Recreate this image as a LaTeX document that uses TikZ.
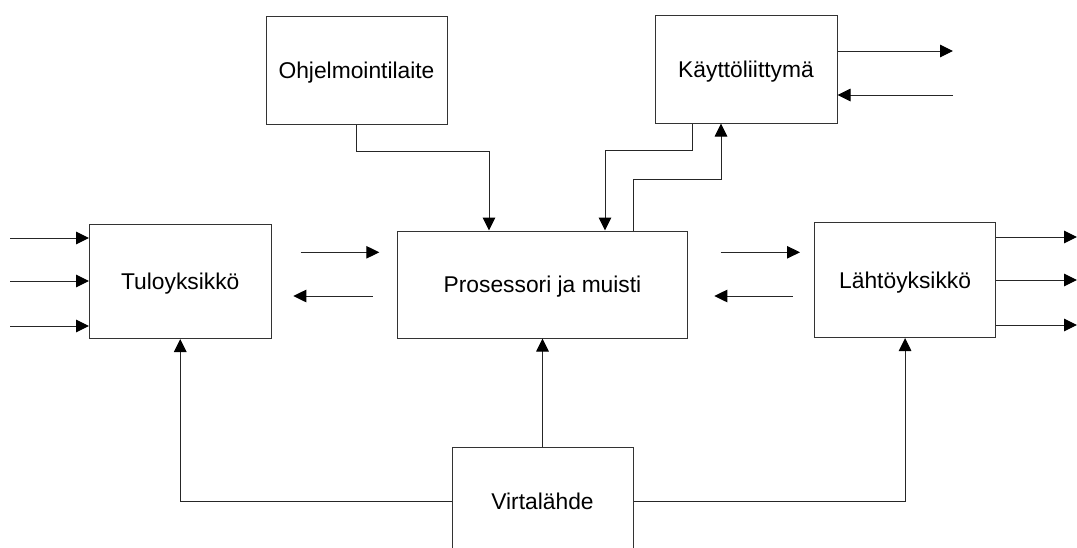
\documentclass[tikz,border=0pt]{standalone}
\usepackage{fontspec}
\setmainfont{Liberation Sans}
\usetikzlibrary{arrows.meta}
\begin{document}
\begin{tikzpicture}[x=1pt,y=-1pt,
  box/.style={draw=black!80,line width=1pt,fill=white,inner sep=0pt,
    text height=16.3pt,text depth=0pt,font=\fontsize{22.8}{27}\selectfont},
  arr/.style={draw=black!85,line width=1pt,-{Triangle[length=13pt,width=12.5pt,color=black]}},
  wire/.style={draw=black!85,line width=1pt}]
\useasboundingbox (0,0) rectangle (1077,547);
\clip (0,0) rectangle (1077,547);

% blocks
\node[box,minimum width=181pt,minimum height=108pt] (ohj) at (356.5,70) {Ohjelmointilaite};
\node[box,minimum width=182pt,minimum height=108pt] (kay) at (746,69) {Käyttöliittymä};
\node[box,minimum width=290pt,minimum height=107pt] (proc) at (542.5,284.5) {Prosessori ja muisti};
\node[box,minimum width=181.5pt,minimum height=114.5pt] (tulo) at (180.25,281.25) {Tuloyksikkö};
\node[box,minimum width=181.2pt,minimum height=114.8pt] (lah) at (905.1,280.1) {Lähtöyksikkö};
\node[box,minimum width=181pt,minimum height=109pt] (vir) at (542.5,501.5) {Virtalähde};

% free ends of the open connectors
\coordinate (kayout) at (953,51);
\coordinate (kayin) at (953,95);
\coordinate (in1) at (10,238);
\coordinate (in2) at (10,281);
\coordinate (in3) at (10,326);
\coordinate (out1) at (1077,237);
\coordinate (out2) at (1077,280);
\coordinate (out3) at (1077,325);
\coordinate (tp1) at (300.7,252.3);
\coordinate (tp2) at (379.3,252.3);
\coordinate (pt1) at (372.7,296);
\coordinate (pt2) at (293.3,296);
\coordinate (pl1) at (720.7,252.3);
\coordinate (pl2) at (800,252.3);
\coordinate (lp1) at (792.7,296);
\coordinate (lp2) at (714.3,296);

% programming device and user interface to the processor
\draw[arr] (ohj.south) |- (489,151) -- (489,151 |- proc.north);
\draw[arr] ([xshift=-54pt]kay.south) |- (605,150) -- (605,150 |- proc.north);
\draw[arr] (633,179 |- proc.north) |- (721,179) -- (721,179 |- kay.south);

% user interface external lines
\draw[arr] (kay.east |- kayout) -- (kayout);
\draw[arr] (kayin) -- (kayin -| kay.east);

% inputs and outputs
\draw[arr] (in1) -- (in1 -| tulo.west);
\draw[arr] (in2) -- (in2 -| tulo.west);
\draw[arr] (in3) -- (in3 -| tulo.west);
\draw[arr] (lah.east |- out1) -- (out1);
\draw[arr] (lah.east |- out2) -- (out2);
\draw[arr] (lah.east |- out3) -- (out3);

% data flow between the units
\draw[arr] (tp1) -- (tp2);
\draw[arr] (pt1) -- (pt2);
\draw[arr] (pl1) -- (pl2);
\draw[arr] (lp1) -- (lp2);

% power supply
\draw[arr] (vir.north) -- (proc.south);
\draw[arr] (vir.west) -| (tulo.south);
\draw[arr] (vir.east) -| (lah.south);
\end{tikzpicture}
\end{document}
